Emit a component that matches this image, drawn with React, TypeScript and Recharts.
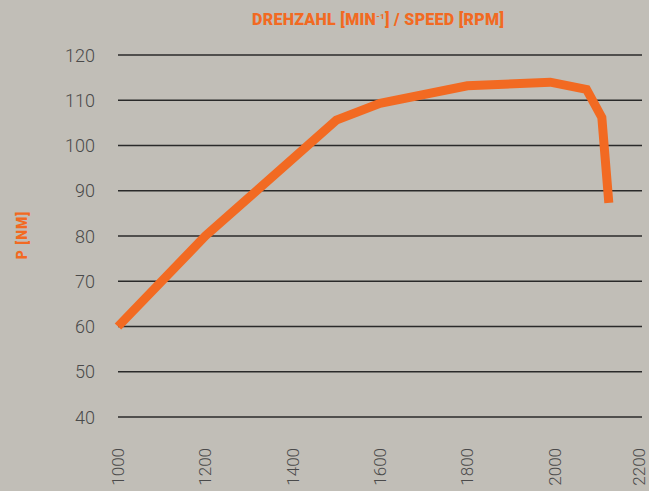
import React from "react";
import { LineChart, Line, XAxis, YAxis, CartesianGrid } from "recharts";

const rpm = [1000, 1200, 1500, 1600, 1800, 1990, 2073, 2108, 2124];
const torque = [60, 80, 105.6, 109.3, 113.2, 114, 112.4, 106.2, 87.3];
const xTicks = [1000, 1200, 1400, 1600, 1800, 2000, 2200];
const yTicks = [40, 50, 60, 70, 80, 90, 100, 110, 120];

const data = rpm.map((r, i) => ({ rpm: r, torque: torque[i] }));

const ORANGE = "#F26A22";
const BG = "#C1BEB7";
const TICK = "#4a4a4a";

function XTick(props: any) {
  const { x, y, payload } = props;
  // keep the last label inside the frame
  const tx = Math.min(x, 639);
  return (
    <text
      x={0}
      y={0}
      transform={`translate(${tx},${y + 23}) rotate(-90)`}
      textAnchor="end"
      dominantBaseline="central"
      fill={TICK}
      fontSize={17}
      fontWeight={300}
      fontFamily="Roboto"
    >
      {payload.value}
    </text>
  );
}

function YTick(props: any) {
  const { y, payload } = props;
  return (
    <text
      x={95}
      y={y}
      textAnchor="end"
      dominantBaseline="central"
      fill={TICK}
      fontSize={18}
      fontWeight={300}
      fontFamily="Roboto"
    >
      {payload.value}
    </text>
  );
}

export default function App() {
  return (
    <div
      style={{
        position: "fixed",
        left: 0,
        top: 0,
        width: 649,
        height: 491,
        background: BG,
        overflow: "hidden",
      }}
    >
      <div
        style={{
          position: "absolute",
          top: 10,
          left: 252,
          color: ORANGE,
          fontFamily: "Roboto",
          fontWeight: 900,
          fontSize: 16,
          letterSpacing: 0.3,
          whiteSpace: "nowrap",
        }}
      >
        DREHZAHL [MIN<sup style={{ fontSize: 8 }}>-1</sup>] / SPEED [RPM]
      </div>
      <div
        style={{
          position: "absolute",
          left: 22,
          top: 235,
          transform: "translate(-50%, -50%) rotate(-90deg)",
          color: ORANGE,
          fontFamily: "Roboto",
          fontWeight: 900,
          fontSize: 14,
          letterSpacing: 1,
          whiteSpace: "nowrap",
        }}
      >
        P [NM]
      </div>
      <LineChart
        width={649}
        height={491}
        data={data}
        margin={{ top: 55, right: 7, left: 0, bottom: 0 }}
      >
        <CartesianGrid
          vertical={false}
          stroke="#2a2a2a"
          strokeWidth={1.5}
        />
        <XAxis
          dataKey="rpm"
          type="number"
          domain={[1000, 2200]}
          ticks={xTicks}
          height={74}
          axisLine={false}
          tickLine={false}
          tick={<XTick />}
          interval={0}
        />
        <YAxis
          type="number"
          domain={[40, 120]}
          ticks={yTicks}
          width={118}
          axisLine={false}
          tickLine={false}
          tick={<YTick />}
          interval={0}
        />
        <Line
          type="linear"
          dataKey="torque"
          stroke={ORANGE}
          strokeWidth={9}
          dot={false}
          isAnimationActive={false}
        />
      </LineChart>
    </div>
  );
}
